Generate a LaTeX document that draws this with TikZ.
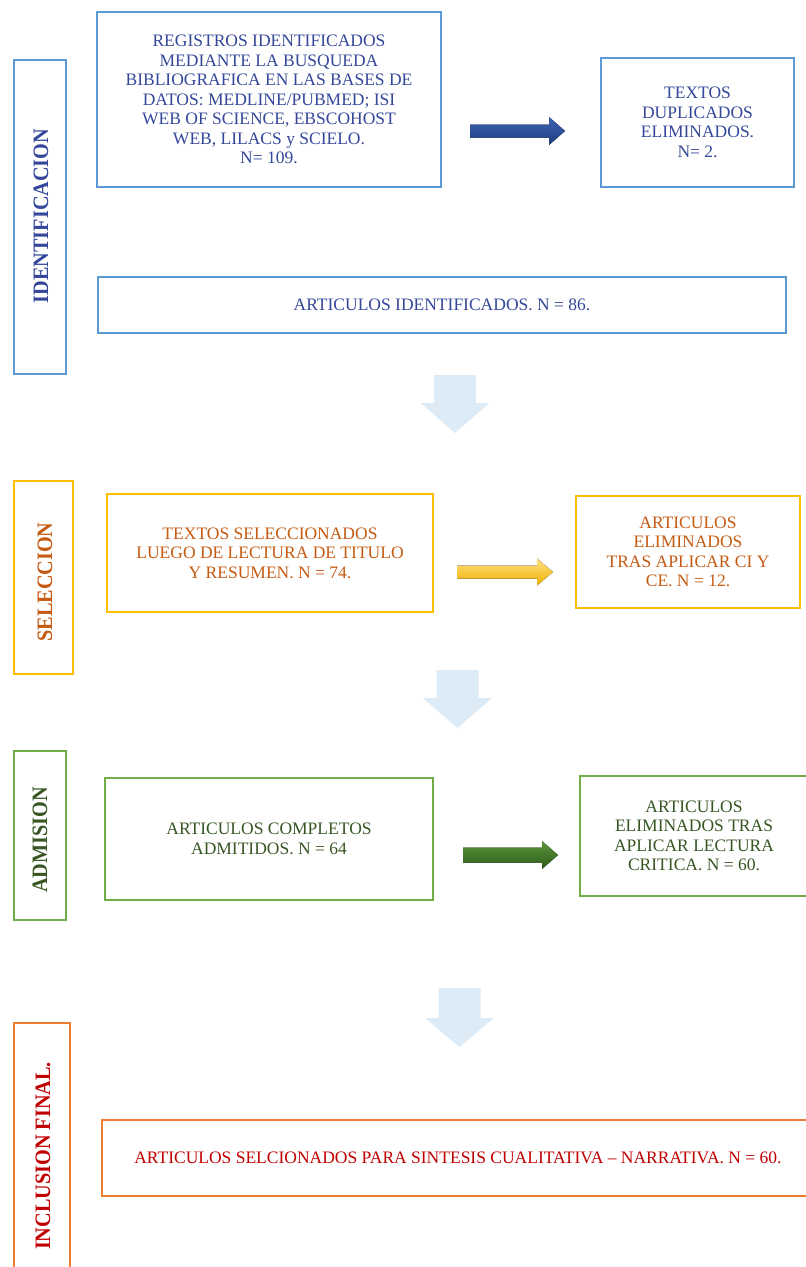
\documentclass[tikz,border=0pt]{standalone}
\usepackage{fontspec}
\setmainfont{Liberation Serif}
\newfontfamily\sidefont{Liberation Serif}[FakeStretch=0.92]
\definecolor{bline}{HTML}{5B9BD5}
\definecolor{btext}{HTML}{34479A}
\definecolor{yline}{HTML}{FFC000}
\definecolor{otext}{HTML}{C55A11}
\definecolor{gline}{HTML}{70AD47}
\definecolor{gtext}{HTML}{375623}
\definecolor{oline}{HTML}{ED7D31}
\definecolor{rtext}{HTML}{C00000}
\definecolor{downfill}{HTML}{DDEBF7}
\definecolor{barT}{HTML}{3C64B4}
\definecolor{barM}{HTML}{3258A5}
\definecolor{barB}{HTML}{1E3C7D}
\definecolor{yarT}{HTML}{FFE082}
\definecolor{yarB}{HTML}{F0B000}
\definecolor{garT}{HTML}{5A963C}
\definecolor{garM}{HTML}{467D2D}
\definecolor{garB}{HTML}{2D5A19}
\tikzset{
  box/.style={draw=#1, line width=2.4pt, inner sep=0pt, align=center, font=\fontsize{17.5}{19.5}\selectfont},
  side/.style={draw=#1, line width=2.4pt, inner sep=0pt},
  sidetext/.style={rotate=90, font=\sidefont\bfseries\fontsize{22}{24}\selectfont},
  downarrow/.style={fill=downfill}
}
\begin{document}
\begin{tikzpicture}[x=1pt,y=-1pt]
\useasboundingbox (0,0) rectangle (806,1267);
\begin{scope}
\clip (0,0) rectangle (806,1267);
% side boxes
\node[side=bline, minimum width=52, minimum height=314] (sid) at (40,217) {};
\node[sidetext, text=btext] (sidt) at (41,216) {IDENTIFICACION};
\node[side=yline, minimum width=59, minimum height=193] (ssel) at (43.5,577.5) {};
\node[sidetext, text=otext] (sselt) at (45,582) {SELECCION};
\node[side=gline, minimum width=52, minimum height=169] (sadm) at (40,835.5) {};
\node[sidetext, text=gtext] (sadmt) at (40,840) {ADMISION};
\node[side=oline, minimum width=56, minimum height=267] (sinc) at (42,1156.5) {};
\node[sidetext, text=rtext] (sinct) at (43,1156) {INCLUSION FINAL.};
% identification
\node[box=bline, text=btext, minimum width=344, minimum height=175] (b1) at (269,99.5)
  {REGISTROS IDENTIFICADOS\\MEDIANTE LA BUSQUEDA\\BIBLIOGRAFICA EN LAS BASES DE\\DATOS: MEDLINE/PUBMED; ISI\\WEB OF SCIENCE, EBSCOHOST\\WEB, LILACS y SCIELO.\\N= 109.};
\node[box=bline, text=btext, minimum width=193, minimum height=129] (b2) at (697.5,122.5)
  {TEXTOS\\DUPLICADOS\\ELIMINADOS.\\N= 2.};
\node[box=bline, text=btext, minimum width=688, minimum height=56] (b3) at (442,305)
  {ARTICULOS IDENTIFICADOS. N = 86.};
% seleccion
\node[box=yline, text=otext, minimum width=326, minimum height=118] (b4) at (270,553)
  {TEXTOS SELECCIONADOS\\LUEGO DE LECTURA DE TITULO\\Y RESUMEN. N = 74.};
\node[box=yline, text=otext, minimum width=224, minimum height=112] (b5) at (688,552)
  {ARTICULOS\\ELIMINADOS\\TRAS APLICAR CI Y\\CE. N = 12.};
% admision
\node[box=gline, text=gtext, minimum width=328, minimum height=122] (b6) at (269,839)
  {ARTICULOS COMPLETOS\\ADMITIDOS. N = 64};
\node[box=gline, text=gtext, minimum width=228, minimum height=120] (b7) at (694,836)
  {ARTICULOS\\ELIMINADOS TRAS\\APLICAR LECTURA\\CRITICA. N = 60.};
% inclusion
\node[box=oline, text=rtext, minimum width=712, minimum height=76] (b8) at (458,1158)
  {ARTICULOS SELCIONADOS PARA SINTESIS CUALITATIVA -- NARRATIVA. N = 60.};
% horizontal block arrows
\coordinate (a1s) at (470,131);
\fill[top color=barT, middle color=barM, bottom color=barB]
  (a1s) ++(0,-6.5) -- ++(79,0) -- ++(0,-7.5) -- ++(16,14) -- ++(-16,14) -- ++(0,-7.5) -- ++(-79,0) -- cycle;
\coordinate (a2s) at (457,572);
\fill[top color=yarT, middle color=yline, bottom color=yarB]
  (a2s) ++(0,-6.5) -- ++(80,0) -- ++(0,-7) -- ++(16,13.5) -- ++(-16,13.5) -- ++(0,-7) -- ++(-80,0) -- cycle;
\coordinate (a3s) at (463,855);
\fill[top color=garT, middle color=garM, bottom color=garB]
  (a3s) ++(0,-7.5) -- ++(79,0) -- ++(0,-6.5) -- ++(16,14) -- ++(-16,14) -- ++(0,-6.5) -- ++(-79,0) -- cycle;
% down arrows
\coordinate (d1) at (455,375);
\fill[downarrow] (d1) ++(-21,0) -- ++(42,0) -- ++(0,28) -- ++(13.5,0) -- ++(-34.5,30) -- ++(-34.5,-30) -- ++(13.5,0) -- cycle;
\coordinate (d2) at (457.5,670);
\fill[downarrow] (d2) ++(-21,0) -- ++(42,0) -- ++(0,28) -- ++(13.5,0) -- ++(-34.5,30) -- ++(-34.5,-30) -- ++(13.5,0) -- cycle;
\coordinate (d3) at (459.5,988);
\fill[downarrow] (d3) ++(-21,0) -- ++(42,0) -- ++(0,30) -- ++(13.5,0) -- ++(-34.5,29) -- ++(-34.5,-29) -- ++(13.5,0) -- cycle;
\end{scope}
\end{tikzpicture}
\end{document}
